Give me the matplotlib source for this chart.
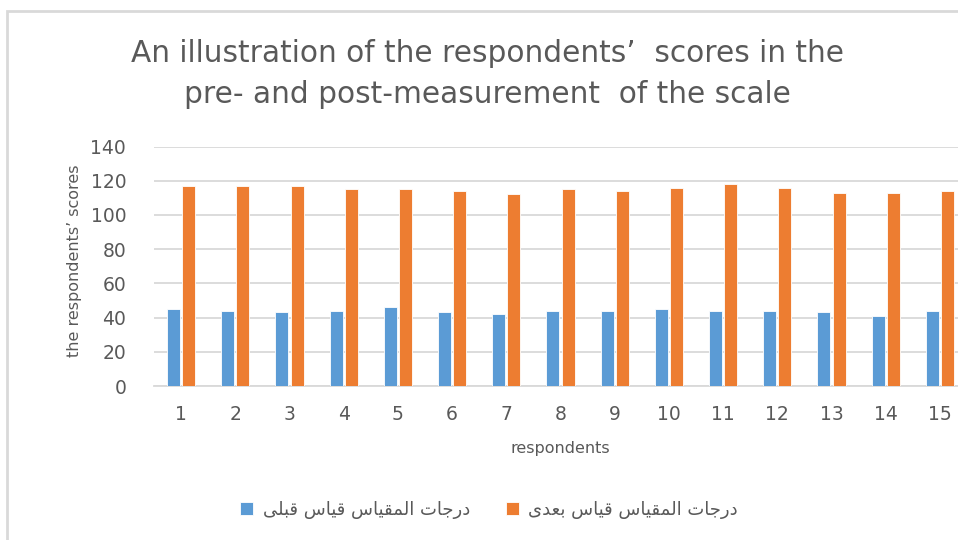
import matplotlib
matplotlib.use("Agg")
import matplotlib.pyplot as plt
import numpy as np
from matplotlib.patches import Rectangle

categories = [str(i) for i in range(1, 16)]
pre_scores = [45, 44, 43, 44, 46, 43, 42, 44, 44, 45, 44, 44, 43, 41, 44]
post_scores = [117, 117, 117, 115, 115, 114, 112, 115, 114, 116, 118, 116, 113, 113, 114]
y_ticks = [0, 20, 40, 60, 80, 100, 120, 140]

title = "An illustration of the respondents\u2019  scores in the\npre- and post-measurement  of the scale"
xlabel = "respondents"
ylabel = "the respondents\u2019 scores"
label_pre = "درجات المقياس قياس قبلى"
label_post = "درجات المقياس قياس بعدى"

# --- minimal Arabic shaping (presentation forms) for matplotlib ---
FORMS = {  # isolated, final, initial, medial
    "ا": ("\uFE8D", "\uFE8E", None, None),
    "ب": ("\uFE8F", "\uFE90", "\uFE91", "\uFE92"),
    "ت": ("\uFE95", "\uFE96", "\uFE97", "\uFE98"),
    "ج": ("\uFE9D", "\uFE9E", "\uFE9F", "\uFEA0"),
    "د": ("\uFEA9", "\uFEAA", None, None),
    "ر": ("\uFEAD", "\uFEAE", None, None),
    "س": ("\uFEB1", "\uFEB2", "\uFEB3", "\uFEB4"),
    "ع": ("\uFEC9", "\uFECA", "\uFECB", "\uFECC"),
    "ق": ("\uFED5", "\uFED6", "\uFED7", "\uFED8"),
    "ل": ("\uFEDD", "\uFEDE", "\uFEDF", "\uFEE0"),
    "م": ("\uFEE1", "\uFEE2", "\uFEE3", "\uFEE4"),
    "ي": ("\uFEF1", "\uFEF2", "\uFEF3", "\uFEF4"),
    "ى": ("\uFEEF", "\uFEF0", None, None),
}


def dual(c):
    return c in FORMS and FORMS[c][2] is not None


def shape(text):
    out = []
    n = len(text)
    for i, c in enumerate(text):
        if c not in FORMS:
            out.append(c)
            continue
        prev = text[i - 1] if i > 0 else ""
        nxt = text[i + 1] if i < n - 1 else ""
        jp = dual(prev)
        jn = dual(c) and nxt in FORMS
        iso, fin, ini, med = FORMS[c]
        if jp and jn:
            out.append(med)
        elif jp:
            out.append(fin)
        elif jn:
            out.append(ini)
        else:
            out.append(iso)
    return "".join(out)[::-1]


blue = "#5b9bd5"
orange = "#ed7d31"
grid_c = "#d9d9d9"
text_c = "#595959"
FONT = "DejaVu Sans"

fig = plt.figure(figsize=(9.58, 5.40), dpi=100)
fig.patch.set_facecolor("white")

# chart-area border
fig.add_artist(Rectangle((7 / 958, -0.05), 1.2, (540 - 11) / 540 + 0.05,
                         transform=fig.transFigure, fill=False,
                         edgecolor=grid_c, linewidth=2))

ax = fig.add_axes([154 / 958, (540 - 386) / 540, (967 - 154) / 958, (386 - 146.5) / 540])
x = np.arange(len(categories))
w = 0.24
off = 0.14
ax.bar(x - off, pre_scores, width=w, color=blue, edgecolor="white", linewidth=0.6,
       label=shape(label_pre), zorder=3)
ax.bar(x + off, post_scores, width=w, color=orange, edgecolor="white", linewidth=0.6,
       label=shape(label_post), zorder=3)

ax.set_xlim(-0.5, len(categories) - 0.5)
ax.set_ylim(0, 140)
ax.set_yticks(y_ticks)
ax.set_xticks(x)
ax.set_xticklabels(categories)
ax.tick_params(axis="both", length=0, labelsize=13.5, colors=text_c)
ax.tick_params(axis="x", pad=14)
ax.tick_params(axis="y", pad=20)
for lbl in ax.get_xticklabels() + ax.get_yticklabels():
    lbl.set_fontfamily(FONT)
ax.grid(axis="y", color=grid_c, linewidth=1.3, zorder=0)
for s in ["top", "right", "left"]:
    ax.spines[s].set_visible(False)
ax.spines["bottom"].set_color(grid_c)
ax.spines["bottom"].set_linewidth(1.3)

fig.text(560 / 958, 1 - 449 / 540, xlabel, ha="center", va="center", fontsize=11.5,
         color=text_c, family=FONT)
fig.text(75 / 958, 1 - 261 / 540, ylabel, ha="center", va="center", fontsize=11.5,
         color=text_c, family=FONT, rotation=90)

fig.text(487 / 958, 1 - 74 / 540, title, ha="center", va="center", fontsize=21.3,
         color=text_c, family=FONT, linespacing=1.55)

leg = fig.legend(loc="center", bbox_to_anchor=(489 / 958, 1 - 510 / 540), ncol=2,
                 frameon=False, handlelength=0.75, handleheight=0.75,
                 handletextpad=0.5, columnspacing=2.0,
                 prop={"family": "DejaVu Sans", "size": 13})
for t in leg.get_texts():
    t.set_color(text_c)

fig.savefig("out.png", dpi=100)
